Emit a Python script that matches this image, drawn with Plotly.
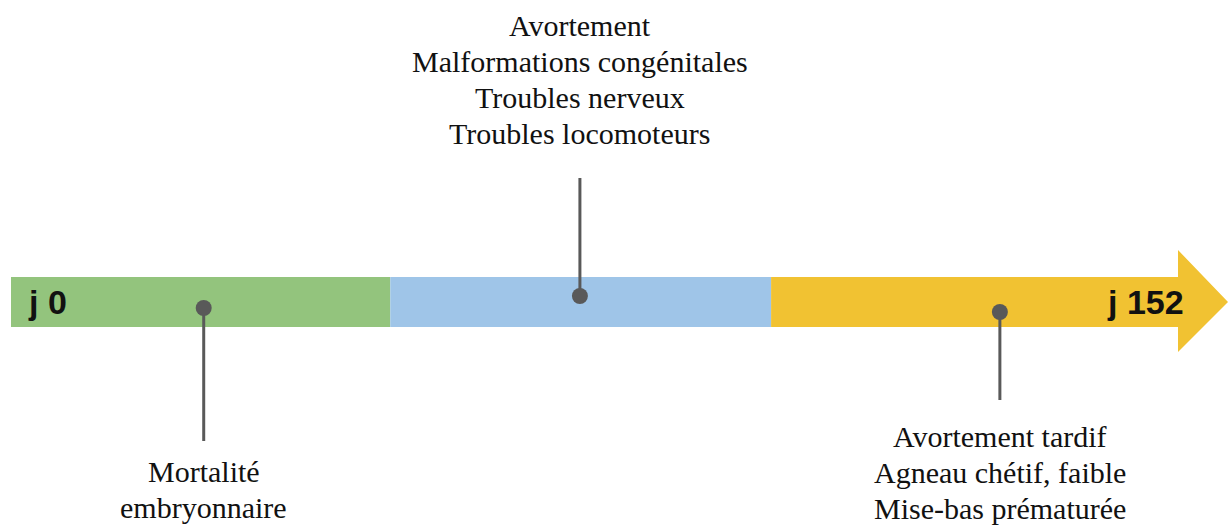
import plotly.graph_objects as go

# ---- data ----
phase_bounds = [0, 49.4, 99.0, 152]          # days (j0 -> j152)
phase_colors = ["#93c47d", "#9fc5e8", "#f1c232"]
event_days = [25.1, 74.1, 128.8]
event_labels = [
    ["Mortalité", "embryonnaire"],
    ["Avortement", "Malformations congénitales", "Troubles nerveux", "Troubles locomoteurs"],
    ["Avortement tardif", "Agneau chétif, faible", "Mise-bas prématurée"],
]
end_labels = ["j 0", "j 152"]

# ---- layout constants (vertical axis in screen-like units, reversed) ----
W, H = 1228, 525
px_per_day = 1167 / 152.0
x0 = -11 / px_per_day
x1 = x0 + W / px_per_day
bar_top, bar_bot = 277, 327
head_top, head_bot, head_len = 250, 352, 50 / px_per_day
mid = (bar_top + bar_bot) / 2
dot_y = [308, 296, 312]
stem_end = [441, 178, 400]
label_dir = [1, -1, 1]          # 1: below, -1: above
label_start = [471, 133, 436]
line_gap = 36
dot_color = "#595959"

fig = go.Figure()

# phases
for i, c in enumerate(phase_colors):
    a, b = phase_bounds[i], phase_bounds[i + 1]
    if i < len(phase_colors) - 1:
        xs = [a, b, b, a, a]
        ys = [bar_top, bar_top, bar_bot, bar_bot, bar_top]
    else:
        xs = [a, b, b, b + head_len, b, b, a, a]
        ys = [bar_top, bar_top, head_top, mid, head_bot, bar_bot, bar_bot, bar_top]
    fig.add_trace(go.Scatter(x=xs, y=ys, mode="lines", fill="toself", fillcolor=c,
                             line=dict(width=0, color=c), hoverinfo="skip", showlegend=False))

# stems + dots
for d, dy, se in zip(event_days, dot_y, stem_end):
    fig.add_trace(go.Scatter(x=[d, d], y=[dy, se], mode="lines",
                             line=dict(color=dot_color, width=3), showlegend=False, hoverinfo="skip"))
fig.add_trace(go.Scatter(x=event_days, y=dot_y, mode="markers",
                         marker=dict(color=dot_color, size=16), showlegend=False, hoverinfo="skip"))

# labels
serif = dict(family="Liberation Serif, Times New Roman, serif", size=30, color="#111111")
for d, lines, start, dr in zip(event_days, event_labels, label_start, label_dir):
    ordered = lines if dr == 1 else lines[::-1]
    for k, t in enumerate(ordered):
        fig.add_annotation(x=d, y=start + dr * k * line_gap, text=t, showarrow=False,
                           font=serif, xanchor="center", yanchor="middle")

sans = dict(family="Liberation Sans, Arial, sans-serif", size=34, color="#111111")
fig.add_annotation(x=phase_bounds[0] + 15 / px_per_day, y=mid, text="<b>%s</b>" % end_labels[0],
                   showarrow=False, font=sans, xanchor="left", yanchor="middle")
fig.add_annotation(x=phase_bounds[-1] + 8 / px_per_day, y=mid, text="<b>%s</b>" % end_labels[1],
                   showarrow=False, font=sans, xanchor="right", yanchor="middle")

fig.update_layout(
    width=W, height=H, margin=dict(l=0, r=0, t=0, b=0),
    paper_bgcolor="white", plot_bgcolor="white",
    xaxis=dict(range=[x0, x1], visible=False, fixedrange=True),
    yaxis=dict(range=[H, 0], visible=False, fixedrange=True),
)
fig.write_html("out.html", config={"displayModeBar": False},
               post_script="document.body.style.margin='0';document.body.style.overflow='hidden';")
